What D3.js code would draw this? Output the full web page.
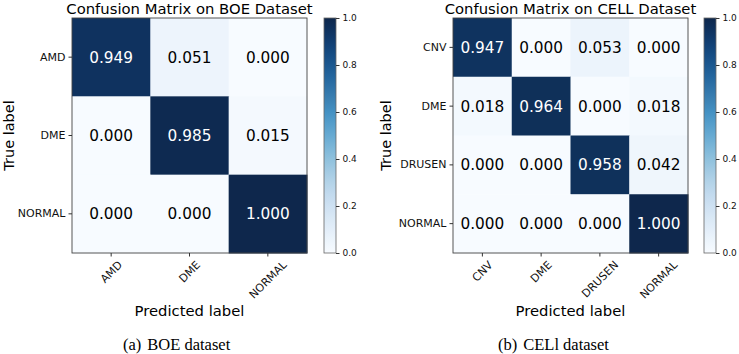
<!DOCTYPE html>
<html>
<head>
<meta charset="utf-8">
<script src="https://cdn.jsdelivr.net/npm/d3@7"></script>
<style>
  body { margin: 0; background: #fff; }
  svg { display: block; }
  text { font-family: "DejaVu Sans", sans-serif; }
  .caption { font-family: "Liberation Serif", "Times New Roman", serif; }
</style>
</head>
<body>
<svg id="chart" width="739" height="354"></svg>
<script>
// ---------- data ----------
const boeLabels = ["AMD", "DME", "NORMAL"];
const boeValues = [
    [0.949, 0.051, 0.000],
    [0.000, 0.985, 0.015],
    [0.000, 0.000, 1.000]
];
const cellLabels = ["CNV", "DME", "DRUSEN", "NORMAL"];
const cellValues = [
    [0.947, 0.000, 0.053, 0.000],
    [0.018, 0.964, 0.000, 0.018],
    [0.000, 0.000, 0.958, 0.042],
    [0.000, 0.000, 0.000, 1.000]
];
const colorbarTicks = [0.0, 0.2, 0.4, 0.6, 0.8, 1.0];

const svg = d3.select("#chart");
// Blues, a touch darker at the top end like the printed figure
const color = t => {
    const c = d3.hsl(d3.interpolateBlues(t));
    c.l *= 1 - 0.22 * Math.pow(t, 3);
    c.s *= 1 - 0.2 * Math.pow(t, 3);
    return c.formatHex();
};

// one shared gradient for both colorbars
const grad = svg.append("defs").append("linearGradient")
    .attr("id", "blues").attr("x1", 0).attr("y1", 1).attr("x2", 0).attr("y2", 0);
grad.selectAll("stop").data(d3.range(0, 1.0001, 0.05)).join("stop")
    .attr("offset", d => d).attr("stop-color", d => color(d));

drawMatrix({
    left: 72, labels: boeLabels, values: boeValues,
    title: "Confusion Matrix on BOE Dataset",
    tag: "(a)", caption: "BOE dataset", capX: 123, cbX: 324, ylabX: 14
});
drawMatrix({
    left: 453, labels: cellLabels, values: cellValues,
    title: "Confusion Matrix on CELL Dataset",
    tag: "(b)", caption: "CELl dataset", capX: 498, cbX: 704, ylabX: 391
});

function drawMatrix(o) {
    const top = 18, size = 235;
    const g = svg.append("g");
    const x = d3.scaleBand().domain(o.labels).range([o.left, o.left + size]);
    const y = d3.scaleBand().domain(o.labels).range([top, top + size]);

    const cells = o.values.flatMap((row, i) => row.map((v, j) => ({ r: o.labels[i], c: o.labels[j], v })));
    g.selectAll("rect.cell").data(cells).join("rect")
        .attr("class", "cell")
        .attr("x", d => x(d.c)).attr("y", d => y(d.r))
        .attr("width", x.bandwidth() + 0.5).attr("height", y.bandwidth() + 0.5)
        .attr("fill", d => color(d.v));
    g.selectAll("text.val").data(cells).join("text")
        .attr("class", "val")
        .attr("x", d => x(d.c) + x.bandwidth() / 2)
        .attr("y", d => y(d.r) + y.bandwidth() / 2)
        .attr("text-anchor", "middle").attr("dy", "0.36em")
        .attr("font-size", 15.3)
        .attr("fill", d => d.v > 0.5 ? "#fff" : "#000")
        .text(d => d.v.toFixed(3));

    g.append("rect")
        .attr("x", o.left).attr("y", top).attr("width", size).attr("height", size)
        .attr("fill", "none").attr("stroke", "#444").attr("stroke-width", 0.9);

    // y axis
    const ya = g.append("g").attr("transform", `translate(${o.left},0)`)
        .call(d3.axisLeft(y).tickSize(3.5).tickPadding(3));
    ya.select(".domain").remove();
    ya.selectAll("line").attr("stroke", "#333");
    ya.selectAll("text").attr("font-size", 11).attr("font-family", "DejaVu Sans").attr("fill", "#111");

    // x axis with 45 deg labels centred on the ticks
    const xa = g.append("g").attr("transform", `translate(0,${top + size})`)
        .call(d3.axisBottom(x).tickSize(3.5));
    xa.select(".domain").remove();
    xa.selectAll("line").attr("stroke", "#333");
    xa.selectAll("text").attr("font-size", 11).attr("font-family", "DejaVu Sans").attr("fill", "#111")
        .each(function() {
            const w = this.getComputedTextLength();
            const half = (w + 8) * Math.SQRT1_2 / 2;
            d3.select(this).attr("y", 0).attr("dy", "0.35em").attr("text-anchor", "middle")
                .attr("transform", `translate(0,${7 + half}) rotate(-45)`);
        });

    // titles
    g.append("text").attr("x", o.left + size / 2).attr("y", 14)
        .attr("text-anchor", "middle").attr("font-size", 14.8).text(o.title);
    g.append("text").attr("x", o.left + size / 2).attr("y", 316)
        .attr("text-anchor", "middle").attr("font-size", 14.8).text("Predicted label");
    g.append("text")
        .attr("transform", `translate(${o.ylabX},${top + size / 2}) rotate(-90)`)
        .attr("text-anchor", "middle").attr("font-size", 14.5).text("True label");

    const cap = g.append("text").attr("class", "caption")
        .attr("x", o.capX).attr("y", 350).attr("font-size", 16.5);
    cap.append("tspan").text(o.tag);
    cap.append("tspan").attr("dx", 6).text(o.caption);

    // colorbar
    const cbW = 12;
    const cy = d3.scaleLinear().domain([0, 1]).range([top + size, top]);
    g.append("rect").attr("x", o.cbX).attr("y", top).attr("width", cbW).attr("height", size)
        .attr("fill", "url(#blues)").attr("stroke", "#666").attr("stroke-width", 0.8);
    const ca = g.append("g").attr("transform", `translate(${o.cbX + cbW},0)`)
        .call(d3.axisRight(cy).tickValues(colorbarTicks).tickFormat(d3.format(".1f")).tickSize(3.5).tickPadding(3));
    ca.select(".domain").remove();
    ca.selectAll("line").attr("stroke", "#333");
    ca.selectAll("text").attr("font-size", 9).attr("font-family", "DejaVu Sans").attr("fill", "#111");
}
</script>
</body>
</html>
